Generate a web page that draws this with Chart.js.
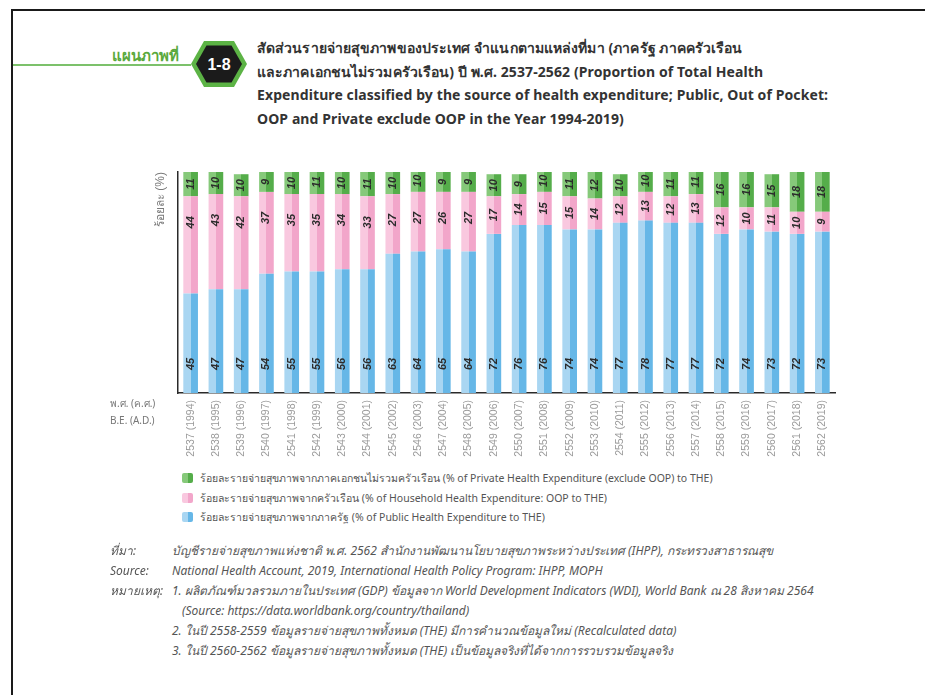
<!DOCTYPE html>
<html>
<head>
<meta charset="utf-8">
<script src="https://cdn.jsdelivr.net/npm/chart.js@4.4.1/dist/chart.umd.min.js"></script>
<style>
  html, body { margin: 0; padding: 0; background: #fff; }
  body { width: 925px; height: 695px; position: relative; overflow: hidden;
         font-family: "Noto Sans", "DejaVu Sans", sans-serif; }
  .frame-top { position: absolute; left: 11px; top: 9px; width: 914px; height: 2px; background: #1a1a1a; }
  .frame-left { position: absolute; left: 11px; top: 9px; width: 2px; height: 686px; background: #1a1a1a; }
  .fig-rule { position: absolute; left: 13px; top: 64px; width: 178px; height: 2px; background: #7cc16b; }
  .fig-word { position: absolute; left: 112px; top: 44px; font-size: 15px; font-weight: bold; color: #5aa93c; }
  .badge { position: absolute; left: 190px; top: 40px; }
  .title { position: absolute; left: 257px; top: 36px; font-size: 14px; font-weight: bold;
           color: #333; line-height: 23.5px; white-space: nowrap; letter-spacing: 0.1px; }
  #chartBox { position: absolute; left: 150px; top: 150px; width: 700px; height: 320px; }
  .era { position: absolute; left: 110px; font-size: 10px; color: #777; }
  .legend { position: absolute; left: 182px; top: 470px; font-size: 10.5px; color: #555; }
  .legend div { height: 19.5px; line-height: 16px; white-space: nowrap; }
  .legend i { display: inline-block; width: 11px; height: 10px; margin-right: 7px;
              vertical-align: -1px; border-radius: 2px; }
  .notes { position: absolute; left: 110px; top: 541px; font-size: 12px; font-style: italic;
           color: #555; white-space: nowrap; }
  .notes div { position: relative; height: 20px; line-height: 20px; }
  .notes b { font-weight: normal; position: absolute; left: 0; }
  .notes span { position: absolute; left: 62px; }
</style>
</head>
<body>
<div class="frame-top"></div>
<div class="frame-left"></div>
<div class="fig-rule"></div>
<div class="fig-word">แผนภาพที่</div>
<svg class="badge" width="58" height="48" viewBox="0 0 58 48">
  <polygon points="1,24 14,1 44,1 57,24 44,47 14,47" fill="#5cb345"/>
  <polygon points="6,24 16.5,5.5 41.5,5.5 52,24 41.5,42.5 16.5,42.5" fill="#1b1b1b"/>
  <text x="29" y="30" text-anchor="middle" font-family="Liberation Sans, sans-serif"
        font-weight="bold" font-size="16" fill="#fff">1-8</text>
</svg>
<div class="title">
  สัดส่วนรายจ่ายสุขภาพของประเทศ จำแนกตามแหล่งที่มา (ภาครัฐ ภาคครัวเรือน<br>
  และภาคเอกชนไม่รวมครัวเรือน) ปี พ.ศ. 2537-2562 (Proportion of Total Health<br>
  Expenditure classified by the source of health expenditure; Public, Out of Pocket:<br>
  OOP and Private exclude OOP in the Year 1994-2019)
</div>

<div id="chartBox"><canvas id="myChart"></canvas></div>
<div class="era" style="top:396px">พ.ศ. (ค.ศ.)</div>
<div class="era" style="top:413px">B.E. (A.D.)</div>

<div class="legend">
  <div><i style="background:linear-gradient(90deg,#86c97a 50%,#55ad4a 50%)"></i>ร้อยละรายจ่ายสุขภาพจากภาคเอกชนไม่รวมครัวเรือน (% of Private Health Expenditure (exclude OOP) to THE)</div>
  <div><i style="background:linear-gradient(90deg,#f9c8df 50%,#f2a6ca 50%)"></i>ร้อยละรายจ่ายสุขภาพจากครัวเรือน (% of Household Health Expenditure: OOP to THE)</div>
  <div><i style="background:linear-gradient(90deg,#a9d6f2 50%,#66b7e7 50%)"></i>ร้อยละรายจ่ายสุขภาพจากภาครัฐ (% of Public Health Expenditure to THE)</div>
</div>

<div class="notes">
  <div><b>ที่มา:</b><span>บัญชีรายจ่ายสุขภาพแห่งชาติ พ.ศ. 2562 สำนักงานพัฒนานโยบายสุขภาพระหว่างประเทศ (IHPP), กระทรวงสาธารณสุข</span></div>
  <div><b>Source:</b><span>National Health Account, 2019, International Health Policy Program: IHPP, MOPH</span></div>
  <div><b>หมายเหตุ:</b><span>1. ผลิตภัณฑ์มวลรวมภายในประเทศ (GDP) ข้อมูลจาก World Development Indicators (WDI), World Bank ณ 28 สิงหาคม 2564</span></div>
  <div><span style="left:72px">(Source: https://data.worldbank.org/country/thailand)</span></div>
  <div><span>2. ในปี 2558-2559 ข้อมูลรายจ่ายสุขภาพทั้งหมด (THE) มีการคำนวณข้อมูลใหม่ (Recalculated data)</span></div>
  <div><span>3. ในปี 2560-2562 ข้อมูลรายจ่ายสุขภาพทั้งหมด (THE) เป็นข้อมูลจริงที่ได้จากการรวบรวมข้อมูลจริง</span></div>
</div>

<script>
// years on the axis, B.E. (A.D.)
const yearLabels = [
  "2537 (1994)", "2538 (1995)", "2539 (1996)", "2540 (1997)", "2541 (1998)", "2542 (1999)",
  "2543 (2000)", "2544 (2001)", "2545 (2002)", "2546 (2003)", "2547 (2004)", "2548 (2005)",
  "2549 (2006)", "2550 (2007)", "2551 (2008)", "2552 (2009)", "2553 (2010)", "2554 (2011)",
  "2555 (2012)", "2556 (2013)", "2557 (2014)", "2558 (2015)", "2559 (2016)", "2560 (2017)",
  "2561 (2018)", "2562 (2019)"
];

// % of THE by source
const publicShare = [45, 47, 47, 54, 55, 55, 56, 56, 63, 64, 65, 64, 72, 76, 76, 74, 74, 77, 78, 77, 77, 72, 74, 73, 72, 73];
const oopShare = [44, 43, 42, 37, 35, 35, 34, 33, 27, 27, 26, 27, 17, 14, 15, 15, 14, 12, 13, 12, 13, 12, 10, 11, 10, 9];
const privateShare = [11, 10, 10, 9, 10, 11, 10, 11, 10, 10, 9, 9, 10, 9, 10, 11, 12, 10, 10, 11, 11, 16, 16, 15, 18, 18];

// two-tone fill so each bar looks like a lit column
function splitFill(light, dark) {
  return (c) => {
    const chart = c.chart;
    const xs = chart.scales && chart.scales.x;
    if (!chart.chartArea || !xs || c.dataIndex == null) return dark;
    const cx = xs.getPixelForValue(c.dataIndex);
    const g = chart.ctx.createLinearGradient(cx - 8, 0, cx + 8, 0);
    g.addColorStop(0, light);
    g.addColorStop(0.5, light);
    g.addColorStop(0.5, dark);
    g.addColorStop(1, dark);
    return g;
  };
}

// value labels written sideways inside each segment
const segmentLabels = {
  id: "segmentLabels",
  afterDatasetsDraw(chart) {
    const ctx = chart.ctx;
    ctx.save();
    ctx.font = "italic bold 11px 'Liberation Sans', sans-serif";
    ctx.fillStyle = "#2b2b2b";
    ctx.textAlign = "center";
    ctx.textBaseline = "middle";
    chart.data.datasets.forEach((ds, di) => {
      chart.getDatasetMeta(di).data.forEach((bar, i) => {
        const top = bar.y, base = bar.base, h = base - top;
        let cy;
        if (di === 0) cy = base - 29;
        else if (di === 1) cy = top + Math.min(26, h / 2);
        else cy = top + h / 2;
        ctx.save();
        ctx.translate(bar.x, cy);
        ctx.rotate(-Math.PI / 2);
        ctx.fillText(String(ds.data[i]), 0, 0);
        ctx.restore();
      });
    });
    ctx.restore();
  }
};

const data = {
  labels: yearLabels,
  datasets: [
    { label: "Public", data: publicShare, backgroundColor: splitFill("#a9d6f2", "#66b7e7") },
    { label: "OOP", data: oopShare, backgroundColor: splitFill("#f9c8df", "#f2a6ca") },
    { label: "Private", data: privateShare, backgroundColor: splitFill("#86c97a", "#55ad4a") }
  ]
};

const config = {
  type: "bar",
  data: data,
  options: {
    responsive: false,
    animation: false,
    layout: { padding: { top: 22, right: 15, left: 0, bottom: 0 } },
    datasets: { bar: { barPercentage: 0.58, categoryPercentage: 1, borderWidth: 0 } },
    plugins: { legend: { display: false }, tooltip: { enabled: false } },
    scales: {
      x: {
        stacked: true,
        grid: { display: false, drawTicks: false },
        border: { color: "#2a2a2a", width: 1.5 },
        ticks: {
          color: "#9a9a9a",
          font: { family: "'Liberation Sans', sans-serif", size: 10.5 },
          minRotation: 90, maxRotation: 90, padding: 7, autoSkip: false
        },
        afterFit: (s) => { s.height = 77; }
      },
      y: {
        stacked: true,
        min: 0, max: 100,
        grid: { display: false, drawTicks: false },
        border: { color: "#2a2a2a", width: 1.5 },
        ticks: { display: false },
        title: {
          display: true, text: "ร้อยละ (%)", align: "end",
          color: "#7a7a7a", font: { size: 12 }, padding: { top: 3, bottom: 2 }
        },
        afterFit: (s) => { s.width = 28; }
      }
    }
  },
  plugins: [segmentLabels]
};

const canvas = document.getElementById("myChart");
canvas.width = 700;
canvas.height = 320;
let myChart = new Chart(canvas, config);
</script>
</body>
</html>
